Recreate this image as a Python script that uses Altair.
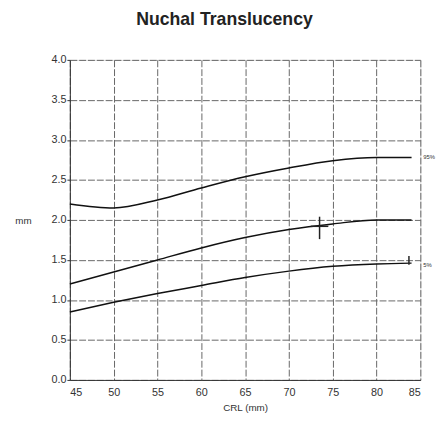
import altair as alt
import pandas as pd

crl = [45, 50, 55, 60, 65, 70, 75, 80, 84]
p95 = [2.20, 2.15, 2.25, 2.40, 2.54, 2.65, 2.74, 2.78, 2.78]
p50 = [1.20, 1.35, 1.50, 1.65, 1.78, 1.88, 1.95, 2.00, 2.00]
p5 = [0.85, 0.97, 1.08, 1.18, 1.28, 1.36, 1.42, 1.45, 1.46]

x_ticks = [45, 50, 55, 60, 65, 70, 75, 80, 85]
y_ticks = [0.0, 0.5, 1.0, 1.5, 2.0, 2.5, 3.0, 3.5, 4.0]

curve_labels = ["95%", "5%"]
curve_label_y = [2.78, 1.44]

meas_x = 73.5
meas_y = 1.92

rows = []
for name, vals in [("95%", p95), ("50%", p50), ("5%", p5)]:
    for c, v in zip(crl, vals):
        rows.append({"crl": c, "nt": v, "curve": name})
df = pd.DataFrame(rows)

xs = alt.Scale(domain=[45, 85], nice=False)
ys = alt.Scale(domain=[0, 4], nice=False)

xaxis = alt.Axis(values=x_ticks, title="CRL (mm)", grid=True, gridColor="#666",
                 gridDash=[7, 2], gridWidth=1, tickSize=0, labelPadding=7,
                 labelFontSize=11, labelColor="#333", titleFontSize=10,
                 titleFontWeight="normal", titleColor="#333", titlePadding=5,
                 domainColor="#333", labelFont="Liberation Sans", titleFont="Liberation Sans")
yaxis = alt.Axis(values=y_ticks, format=".1f", title="mm", grid=True, gridColor="#666",
                 gridDash=[7, 2], gridWidth=1, tickSize=3, tickColor="#333",
                 labelFontSize=11, labelColor="#333", labelPadding=1,
                 titleAngle=0, titleX=-56, titleY=164, titleAlign="left",
                 titleBaseline="middle", titleFontSize=10, titleFontWeight="normal",
                 titleColor="#333", domainColor="#333",
                 labelFont="Liberation Sans", titleFont="Liberation Sans")

lines = alt.Chart(df).mark_line(color="#111", strokeWidth=1.5, interpolate="monotone").encode(
    x=alt.X("crl:Q", scale=xs, axis=xaxis),
    y=alt.Y("nt:Q", scale=ys, axis=yaxis),
    detail="curve:N",
)

lab_df = pd.DataFrame({"x": [85, 85], "y": curve_label_y, "t": curve_labels})
labels = alt.Chart(lab_df).mark_text(align="left", dx=3, fontSize=6, color="#333",
                                     font="Liberation Sans").encode(
    x=alt.X("x:Q", scale=xs), y=alt.Y("y:Q", scale=ys), text="t:N")

vdf = pd.DataFrame({"x": [meas_x, 83.7], "y1": [meas_y - 0.16, 1.44], "y2": [meas_y + 0.12, 1.55]})
vrule = alt.Chart(vdf).mark_rule(color="#222", strokeWidth=1.5).encode(
    x=alt.X("x:Q", scale=xs), y=alt.Y("y1:Q", scale=ys), y2="y2:Q")
hdf = pd.DataFrame({"x1": [meas_x - 1.0], "x2": [meas_x + 1.0], "y": [meas_y]})
hrule = alt.Chart(hdf).mark_rule(color="#222", strokeWidth=1.5).encode(
    x=alt.X("x1:Q", scale=xs), x2="x2:Q", y=alt.Y("y:Q", scale=ys))

chart = (lines + labels + vrule + hrule).properties(
    width=357, height=326,
    autosize=alt.AutoSizeParams(type="none"),
    padding={"left": 63, "top": 49, "right": 18, "bottom": 40},
    title=alt.TitleParams("Nuchal Translucency", fontSize=18, fontWeight="bold",
                          font="Liberation Sans", color="#222", offset=26, dx=-21,
                          anchor="middle"),
).configure_view(stroke="#333", strokeWidth=1).configure(background="white")

chart.save("out.html", embed_options={"renderer": "svg", "actions": False})
